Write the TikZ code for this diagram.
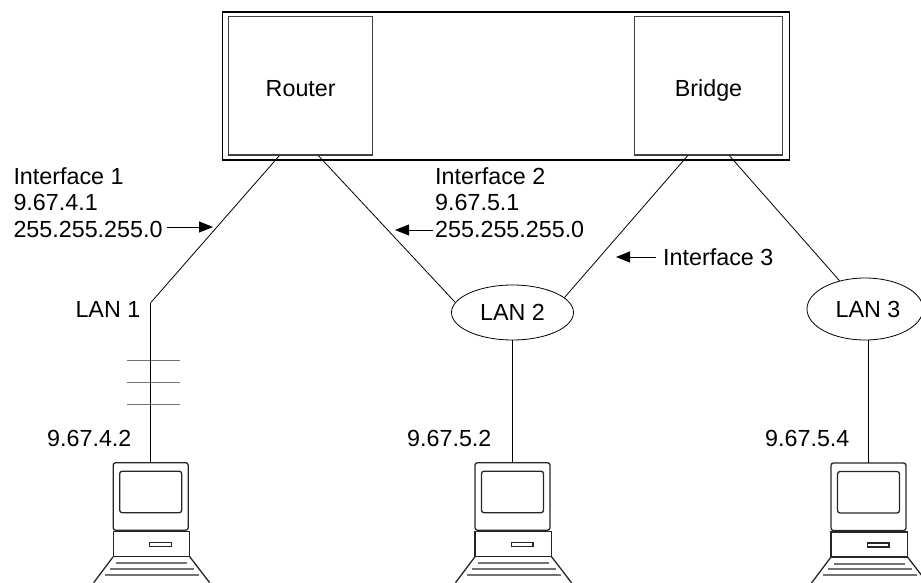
\documentclass[tikz,border=0pt]{standalone}
\usepackage{fontspec}
\setmainfont{Liberation Sans}
\usetikzlibrary{shapes.geometric, positioning, arrows.meta, calc}

\begin{document}
\begin{tikzpicture}[x=1pt,y=-1pt,
    font=\fontsize{23.3}{26.7}\selectfont,
    box node/.style={draw=black!75,line width=1.2pt,inner sep=0pt,text height=22pt,text depth=0pt},
    lan node/.style={ellipse,draw,line width=0.8pt,minimum width=122pt,inner sep=0pt},
    text node/.style={inner sep=0pt},
    wire/.style={line width=0.8pt},
    hatch line/.style={draw=black!55,line width=1.2pt},
    pointer/.style={-{Triangle[length=14pt,width=11pt]},line width=0.8pt},
    pc line/.style={draw=black!85,line width=1.3pt},
    key line/.style={draw=black!55,line width=2pt},
    pc/.pic={
      \coordinate (-top) at (0,0);
      \draw[pc line,rounded corners=2.5pt] (-37.5,0) rectangle (37.5,67.5);
      \draw[pc line,rounded corners=2.5pt] (-31,8.5) rectangle (31,50);
      \draw[pc line] (-37.5,69) rectangle (39,94);
      \draw[pc line] (-1,80) rectangle (20.5,84);
      \draw[pc line] (-37.5,94) -- (-57,120) (39,94) -- (59,120);
      \draw[key line] (-35,100.6) -- (36.7,100.6) (-41,106) -- (43,106) (-46,112.3) -- (48,112.3);
    }]

  \useasboundingbox (0,0) rectangle (921,583);

  % router and bridge
  \node[draw,line width=1.1pt,minimum width=566.6pt,minimum height=148pt] (unit) at (506,86) {};
  \node[box node,minimum width=144pt,minimum height=138.3pt] (router) at (300.7,85.9) {Router};
  \node[box node,minimum width=148.4pt,minimum height=138.3pt] (bridge) at (708.5,85.9) {Bridge};

  \coordinate (r1) at ([xshift=51.3pt]router.south west);
  \coordinate (r2) at ([xshift=90.3pt]router.south west);
  \coordinate (b1) at ([xshift=54pt]bridge.south west);
  \coordinate (b2) at ([xshift=95.7pt]bridge.south west);

  % networks
  \coordinate (lan1) at (150.7,302.7);
  \node[text node,anchor=base east] (lan1 text) at (140.5,317.7) {LAN 1};
  \node[lan node,minimum height=55pt] (lan2) at (512.5,312.5) {LAN 2};
  \node[lan node,minimum width=116pt,minimum height=62pt] (lan3) at (865,309) {\hspace{6pt}LAN 3};

  \foreach \y in {360.7,382.7,404.7}
    \draw[hatch line] (127,\y) -- (180,\y);

  % hosts
  \pic (pc1) at (150.7,462.7) {pc};
  \pic (pc2) at (512.5,462.7) {pc};
  \pic (pc3) at (868.5,463) {pc};

  \path[wire]
  (r1) edge (lan1)
  (r2) edge (lan2.170)
  (b1) edge (lan2.16)
  (b2) edge (lan3.132)
  (lan1) edge (pc1-top)
  (lan2) edge (pc2-top)
  (lan3.south -| pc3-top) edge (pc3-top);

  % labels
  \node[text node,align=left,anchor=north west] (if1) at (13.3,167) {Interface 1\\9.67.4.1\\255.255.255.0};
  \node[text node,align=left,anchor=north west] (if2) at (435,167) {Interface 2\\9.67.5.1\\255.255.255.0};
  \node[text node,anchor=base west] (if3) at (663,265) {Interface 3};

  \node[text node,anchor=base west] (ip1) at (47,446) {9.67.4.2};
  \node[text node,anchor=base west] (ip2) at (407,446) {9.67.5.2};
  \node[text node,anchor=base west] (ip3) at (765,446) {9.67.5.4};

  \coordinate (tail1) at (166.7,227);
  \coordinate (tip1) at (213,227);
  \coordinate (tail2) at (433,230);
  \coordinate (tip2) at (395,230);
  \coordinate (tail3) at (656,257);
  \coordinate (tip3) at (616,257);
  \draw[pointer] (tail1) -- (tip1);
  \draw[pointer] (tail2) -- (tip2);
  \draw[pointer] (tail3) -- (tip3);

\end{tikzpicture}
\end{document}
